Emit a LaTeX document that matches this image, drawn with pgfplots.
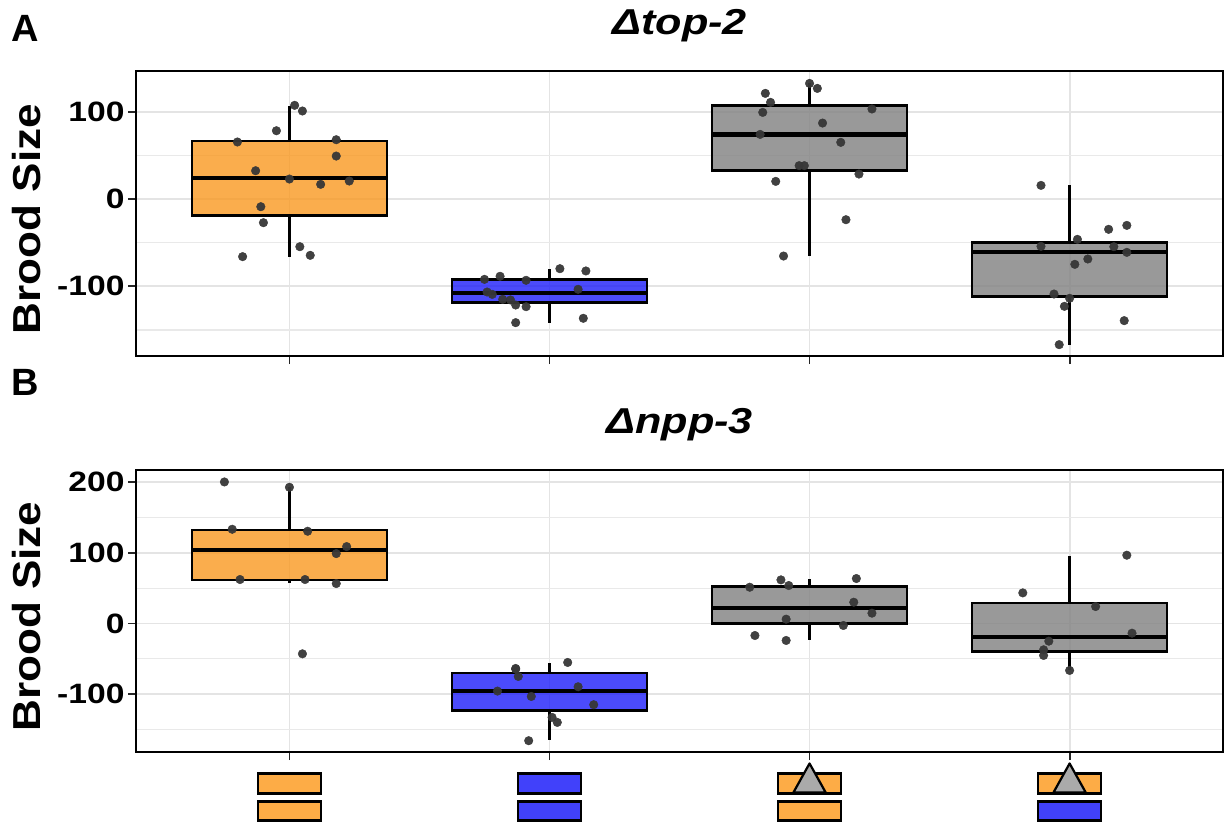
\documentclass[border=0pt]{standalone}
\usepackage{fontspec}
\setmainfont{Liberation Sans}
\usepackage{graphicx}
\usepackage{pgfplots}
\pgfplotsset{compat=1.18}

\definecolor{cOr}{RGB}{249,152,32}
\definecolor{cBl}{RGB}{30,30,250}
\definecolor{cGr}{RGB}{128,128,128}
\definecolor{cPt}{RGB}{55,55,55}
\definecolor{cGrid}{RGB}{228,228,228}
\definecolor{iOr}{RGB}{253,172,70}
\definecolor{iBl}{RGB}{65,65,250}
\definecolor{iGr}{RGB}{170,170,170}

\newcommand\sx[1]{\scalebox{1.2}[1]{#1}}
% box: #1 pos, #2 left, #3 right, #4 lower whisker, #5 lower quartile, #6 median, #7 upper quartile, #8 upper whisker, #9 colour
\newcommand\bxp[9]{%
  \addplot[black, line width=2.3pt] coordinates {(#1,#4) (#1,#5)};
  \addplot[black, line width=2.3pt] coordinates {(#1,#7) (#1,#8)};
  \addplot[fill=#9, fill opacity=0.8, draw=black, line width=2.5pt, line join=miter] coordinates {(#2,#5) (#3,#5) (#3,#7) (#2,#7)} -- cycle;
  \addplot[black, line width=4.2pt] coordinates {(#2,#6) (#3,#6)};
}

\pgfplotsset{
  panel/.style={
    scale only axis, width=1087pt,
    xmin=0.41, xmax=4.59,
    xtick={1,2,3,4}, xticklabels={},
    axis line style={line width=2.8pt, black},
    tick style={line width=1.8pt, black!85},
    major tick length=8pt, minor tick length=0pt,
    tick align=outside, xtick pos=bottom, ytick pos=left,
    xmajorgrids, ymajorgrids, yminorgrids,
    major grid style={cGrid, line width=1.8pt},
    minor grid style={cGrid!80, line width=1.1pt},
    yticklabel style={font=\fontsize{28}{30}\selectfont\bfseries},
    ylabel={\scalebox{1.13}[1]{Brood Size}},
    ylabel style={font=\fontsize{39}{44}\selectfont\bfseries, at={(axis description cs:-0.0883,0.48)}, anchor=base},
    title style={font=\fontsize{36}{40}\selectfont\bfseries\itshape, at={(axis description cs:0.5,1)}, anchor=base, yshift=31pt},
    clip=false,
  },
  pts/.style={only marks, mark=*, mark size=4.3pt, mark options={fill=cPt, draw=cPt, opacity=0.95}},
}

\begin{document}
\begin{tikzpicture}
\path[use as bounding box] (0pt,0pt) rectangle (1225pt,-823pt);
\node[font=\fontsize{38}{40}\selectfont\bfseries, anchor=base west, inner sep=0pt] at (11pt,-41.7pt) {A};
\node[font=\fontsize{38}{40}\selectfont\bfseries, anchor=base west, inner sep=0pt] at (11pt,-395pt) {B};

% ---------------- Panel A
\begin{axis}[panel, at={(136pt,-356pt)}, anchor=south west, height=285pt,
  ymin=-179.8, ymax=146.6,
  ytick={-100,0,100}, yticklabels={\sx{-100},\sx{0},\sx{100}},
  minor ytick={-150,-50,50},
  title={\sx{Δtop-2}}]
\addplot[pts] coordinates {(1.02,107.3) (1.05,100.8) (0.95,78.2) (0.80,65.3) (1.18,67.9) (1.18,49.2) (0.87,32.4) (1.00,22.9) (1.12,16.8) (1.23,20.6) (0.89,-8.8) (0.90,-27.1) (0.82,-66.0) (1.04,-54.6) (1.08,-64.5)};
\addplot[pts] coordinates {(2.04,-79.8) (2.14,-82.4) (1.75,-92.0) (1.81,-88.5) (1.91,-93.1) (1.76,-106.5) (1.78,-109.2) (1.82,-114.9) (1.85,-115.6) (1.87,-121.4) (1.91,-123.3) (2.11,-103.4) (1.87,-141.6) (2.13,-136.6)};
\addplot[pts] coordinates {(3.00,132.4) (3.03,126.7) (2.83,121) (2.85,110.7) (2.82,99.2) (3.24,103.1) (3.05,87) (2.81,74) (3.12,64.9) (2.96,38.2) (2.98,38.2) (3.19,28.6) (2.87,20.2) (3.14,-23.7) (2.90,-65.3)};
\addplot[pts] coordinates {(3.89,15.6) (4.15,-34.7) (4.22,-30.2) (4.03,-46.2) (3.89,-54.2) (4.17,-54.6) (4.22,-61.1) (4.07,-68.7) (4.02,-74.8) (3.94,-108.8) (4.00,-113.7) (3.98,-122.9) (4.21,-139.3) (3.96,-166.8)};
\bxp{1}{0.625}{1.375}{-66}{-18.7}{23.7}{66.4}{107}{cOr}
\bxp{2}{1.625}{2.375}{-141.6}{-118.7}{-108}{-92}{-79.8}{cBl}
\bxp{3}{2.625}{3.375}{-65.3}{32.8}{74}{106.9}{132.4}{cGr}
\bxp{4}{3.625}{4.375}{-166.8}{-111.8}{-61}{-50}{15.6}{cGr}
\end{axis}

% ---------------- Panel B
\begin{axis}[panel, at={(136pt,-752pt)}, anchor=south west, height=282pt,
  ymin=-181.8, ymax=217.1,
  ytick={-100,0,100,200}, yticklabels={\sx{-100},\sx{0},\sx{100},\sx{200}},
  minor ytick={-150,-50,50,150},
  title={\sx{Δnpp-3}}]
\addplot[pts] coordinates {(0.75,200.2) (1.00,192.7) (0.78,133.3) (1.07,130.5) (1.22,108.8) (1.18,98.9) (0.81,62.2) (1.06,62.2) (1.18,56.5) (1.05,-42.9)};
\addplot[pts] coordinates {(2.07,-55.1) (1.87,-63.6) (1.87,-64.5) (1.88,-74.9) (1.80,-95.6) (2.11,-89.5) (1.93,-103.2) (2.17,-114.9) (2.01,-132.8) (2.03,-139.9) (1.92,-165.8)};
\addplot[pts] coordinates {(2.89,61.7) (2.92,53.7) (2.77,51.3) (3.18,63.6) (3.17,30.1) (3.24,14.6) (2.91,6.1) (3.13,-2.8) (2.79,-17) (2.91,-24)};
\addplot[pts] coordinates {(4.22,96.6) (3.82,43.3) (4.10,24) (4.24,-13.7) (3.92,-25) (3.90,-37.2) (3.90,-45.2) (4.00,-66.4)};
\bxp{1}{0.625}{1.375}{57}{61.7}{103.6}{132.4}{192.7}{cOr}
\bxp{2}{1.625}{2.375}{-164.4}{-123.4}{-95.6}{-70.2}{-56}{cBl}
\bxp{3}{2.625}{3.375}{-23.1}{0}{22.1}{52.3}{63.1}{cGr}
\bxp{4}{3.625}{4.375}{-65.5}{-39.6}{-18.8}{28.7}{96.1}{cGr}
% genotype icons under the categories
\begin{scope}[line width=2.2pt, draw=black]
\filldraw[fill=iOr] (axis cs:0.879,-212.3) rectangle (axis cs:1.121,-240.5);
\filldraw[fill=iOr] (axis cs:0.879,-251.8) rectangle (axis cs:1.121,-278.7);
\filldraw[fill=iBl] (axis cs:1.879,-212.3) rectangle (axis cs:2.121,-240.5);
\filldraw[fill=iBl] (axis cs:1.879,-251.8) rectangle (axis cs:2.121,-278.7);
\filldraw[fill=iOr] (axis cs:2.879,-212.3) rectangle (axis cs:3.121,-240.5);
\filldraw[fill=iOr] (axis cs:2.879,-251.8) rectangle (axis cs:3.121,-278.7);
\filldraw[fill=iOr] (axis cs:3.879,-212.3) rectangle (axis cs:4.121,-240.5);
\filldraw[fill=iBl] (axis cs:3.879,-251.8) rectangle (axis cs:4.121,-278.7);
\filldraw[fill=iGr, line join=round] (axis cs:2.938,-239) -- (axis cs:3,-198) -- (axis cs:3.062,-239) -- cycle;
\filldraw[fill=iGr, line join=round] (axis cs:3.938,-239) -- (axis cs:4,-198) -- (axis cs:4.062,-239) -- cycle;
\end{scope}
\end{axis}
\end{tikzpicture}
\end{document}
